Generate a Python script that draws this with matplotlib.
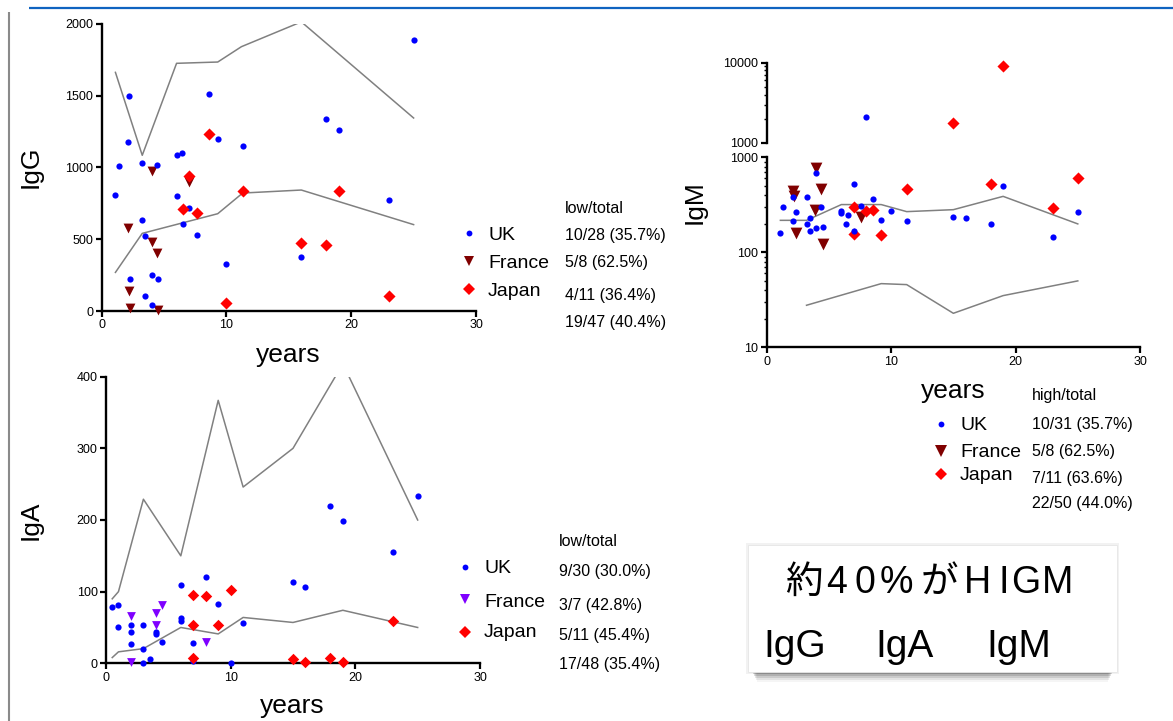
import matplotlib
matplotlib.use("Agg")
import matplotlib.pyplot as plt
from matplotlib.patches import Rectangle
import numpy as np

plt.rcParams['font.family'] = ['Liberation Sans', 'DejaVu Sans']

# ---------------- data ----------------
countries = ["UK", "France", "Japan"]

# IgG
igg_uk_x = [1.1, 1.35, 2.15, 2.1, 2.3, 3.25, 3.25, 3.5, 3.5, 4.0, 4.0, 4.4, 4.5, 6.0, 6.4, 6.0,
            6.5, 7.0, 7.6, 8.6, 9.3, 10.0, 11.3, 16.0, 18.0, 19.0, 23.0, 25.0]
igg_uk_y = [811, 1010, 1498, 1178, 221, 1029, 632, 520, 102, 251, 42, 1020, 221, 1089, 1099, 799,
            609, 720, 530, 1510, 1199, 330, 1150, 379, 1340, 1259, 776, 1889]
igg_fr_x = [2.1, 2.15, 2.3, 4.0, 4.0, 4.4, 4.5, 7.0]
igg_fr_y = [578, 139, 21, 978, 483, 404, 7, 901]
igg_jp_x = [6.5, 7.0, 7.6, 8.6, 10.0, 11.3, 16.0, 18.0, 19.0, 23.0]
igg_jp_y = [711, 943, 681, 1236, 56, 834, 476, 458, 839, 107]
igg_hi_x = [1.1, 3.25, 6.0, 9.3, 11.2, 16.0, 25.0]
igg_hi_y = [1663, 1085, 1726, 1735, 1842, 2015, 1345]
igg_lo_x = [1.1, 3.25, 9.3, 11.3, 16.0, 25.0]
igg_lo_y = [269, 541, 678, 822, 843, 602]
igg_stats = ["low/total", "10/28 (35.7%)", "5/8 (62.5%)", "4/11 (36.4%)", "19/47 (40.4%)"]

# IgA
iga_uk_x = [0.5, 1.0, 1.0, 2.0, 2.0, 2.0, 3.0, 3.0, 3.0, 3.5, 4.0, 4.0, 4.5, 6.0, 6.0, 6.0, 7.0,
            7.0, 7.0, 8.0, 9.0, 10.0, 11.0, 15.0, 16.0, 18.0, 19.0, 23.0, 25.0]
iga_uk_y = [79, 81, 50, 54, 43, 27, 53, 19.5, 0, 6, 43, 40.5, 30, 109, 63, 59.5, 29,
            6, 3.7, 121, 83, 0, 56, 113.5, 106.5, 219, 199, 156, 233]
iga_fr_x = [2.0, 2.0, 4.0, 4.0, 4.5, 8.0]
iga_fr_y = [66, 1.5, 70, 53, 82, 30]
iga_jp_x = [7.0, 7.0, 7.0, 8.0, 9.0, 10.0, 15.0, 16.0, 18.0, 19.0, 23.0]
iga_jp_y = [96, 53, 7, 94, 53, 103, 5.5, 1.5, 8, 1.5, 59.5]
iga_hi_x = [0.5, 1.0, 3.0, 6.0, 9.0, 11.0, 15.0, 19.0, 25.0]
iga_hi_y = [90, 100, 229, 150, 367, 246, 300, 418, 200]
iga_lo_x = [0.5, 1.0, 3.0, 6.0, 9.0, 11.0, 15.0, 19.0, 25.0]
iga_lo_y = [8, 16, 20.5, 50, 41, 64, 57, 74, 50]
iga_stats = ["low/total", "9/30 (30.0%)", "3/7 (42.8%)", "5/11 (45.4%)", "17/48 (35.4%)"]

# IgM
igm_uk_x = [1.1, 1.35, 2.1, 2.15, 2.35, 3.2, 3.25, 3.5, 3.5, 3.95, 3.95, 4.4, 4.5, 6.0, 6.0, 6.5,
            6.4, 7.0, 7.0, 7.55, 8.55, 9.2, 10.0, 11.25, 15.0, 16.0, 18.0, 19.0, 23.0, 25.0, 8.0]
igm_uk_y = [158, 298, 379, 214, 264, 379, 197, 230, 169, 690, 179, 298, 186, 275, 257, 249,
            197, 524, 169, 310, 364, 221, 272, 214, 237, 230, 199, 499, 146, 264, 2094]
igm_fr_x = [2.1, 2.2, 2.35, 3.95, 3.85, 4.4, 4.5, 7.55]
igm_fr_y = [446, 394, 161, 766, 279, 460, 121, 233]
igm_jp_x = [7.0, 7.0, 8.0, 8.55, 9.2, 11.25, 18.0, 23.0, 25.0, 15.0, 19.0]
igm_jp_y = [298, 155, 275, 281, 151, 468, 524, 295, 601, 1745, 8995]
igm_hi_x = [1.1, 3.2, 6.0, 9.2, 11.25, 15.0, 19.0, 25.0]
igm_hi_y = [217, 217, 318, 318, 268, 281, 388, 199]
igm_lo_x = [3.2, 9.2, 11.25, 15.0, 19.0, 25.0]
igm_lo_y = [27.7, 46.8, 45.7, 22.8, 35, 50]
igm_stats = ["high/total", "10/31 (35.7%)", "5/8 (62.5%)", "7/11 (63.6%)", "22/50 (44.0%)"]

box_line1 = "約40%がHIGM"
box_line2 = ["IgG", "IgA", "IgM"]

# ---------------- style ----------------
W, H = 1173, 721
fig = plt.figure(figsize=(W / 100, H / 100), dpi=100)
fig.patch.set_facecolor("white")

BLUE, MAROON, RED, PURPLE = "#0000FF", "#800000", "#FF0000", "#7F00FF"
GRAY = "#808080"


def px_axes(x0, x1, ytop, ybot):
    return fig.add_axes([x0 / W, 1 - ybot / H, (x1 - x0) / W, (ybot - ytop) / H])


def style(ax):
    ax.set_facecolor("none")
    for s in ("top", "right"):
        ax.spines[s].set_visible(False)
    for s in ("left", "bottom"):
        ax.spines[s].set_linewidth(1.7)
    ax.tick_params(which="major", direction="out", length=4, width=1.6, labelsize=9, pad=2)
    ax.tick_params(which="minor", direction="out", length=2.5, width=1.0)


# overlay axes in pixel coordinates for decorations
ov = fig.add_axes([0, 0, 1, 1])
ov.set_xlim(0, W)
ov.set_ylim(H, 0)
ov.axis("off")
ov.plot([29, W], [8.3, 8.3], color="#0f63c0", lw=1.6, solid_capstyle="butt")
ov.plot([8.7, 8.7], [12, H], color="#8a8a8a", lw=1.5, solid_capstyle="butt")

# ---- IgG ----
ax1 = px_axes(101.7, 476, 24, 311)
style(ax1)
ax1.plot(igg_hi_x, igg_hi_y, color=GRAY, lw=1.1)
ax1.plot(igg_lo_x, igg_lo_y, color=GRAY, lw=1.1)
ax1.scatter(igg_fr_x, igg_fr_y, marker="v", s=50, color=MAROON, lw=0, clip_on=False, zorder=3)
ax1.scatter(igg_uk_x, igg_uk_y, marker="o", s=20, color=BLUE, lw=0, clip_on=False, zorder=3)
ax1.scatter(igg_jp_x, igg_jp_y, marker="D", s=38, color=RED, lw=0, clip_on=False, zorder=4)
ax1.set_xlim(0, 30)
ax1.set_ylim(0, 2000)
ax1.set_xticks([0, 10, 20, 30])
ax1.set_yticks([0, 500, 1000, 1500, 2000])

# ---- IgA ----
ax2 = px_axes(106, 480, 376.7, 663.3)
style(ax2)
ax2.plot(iga_hi_x, iga_hi_y, color=GRAY, lw=1.1)
ax2.plot(iga_lo_x, iga_lo_y, color=GRAY, lw=1.1)
ax2.scatter(iga_uk_x, iga_uk_y, marker="o", s=20, color=BLUE, lw=0, clip_on=False, zorder=3)
ax2.scatter(iga_fr_x, iga_fr_y, marker="v", s=40, color=PURPLE, lw=0, clip_on=False, zorder=3)
ax2.scatter(iga_jp_x, iga_jp_y, marker="D", s=34, color=RED, lw=0, clip_on=False, zorder=4)
ax2.set_xlim(0, 30)
ax2.set_ylim(0, 400)
ax2.set_xticks([0, 10, 20, 30])
ax2.set_yticks([0, 100, 200, 300, 400])

# ---- IgM (broken log axis) ----
ax3 = px_axes(766.7, 1140, 157.3, 347.3)
ax3u = px_axes(766.7, 1140, 62.7, 142.7)
for a in (ax3, ax3u):
    style(a)
    a.set_yscale("log")
    a.set_xlim(0, 30)
ax3.set_ylim(10, 1000)
ax3u.set_ylim(1000, 10000)
ax3u.spines["bottom"].set_visible(False)
ax3u.tick_params(axis="x", which="both", bottom=False, labelbottom=False)
ax3.set_xticks([0, 10, 20, 30])
ax3.set_yticks([10, 100, 1000])
ax3u.set_yticks([1000, 10000])
for a in (ax3, ax3u):
    a.yaxis.set_major_formatter(matplotlib.ticker.FuncFormatter(lambda v, p: "%d" % round(v)))
    a.yaxis.set_minor_formatter(matplotlib.ticker.NullFormatter())

ax3.plot(igm_hi_x, igm_hi_y, color=GRAY, lw=1.1)
ax3.plot(igm_lo_x, igm_lo_y, color=GRAY, lw=1.1)


def split_scatter(xs, ys, **kw):
    xs = np.asarray(xs)
    ys = np.asarray(ys)
    lo = ys < 1000
    ax3.scatter(xs[lo], ys[lo], clip_on=False, lw=0, **kw)
    ax3u.scatter(xs[~lo], ys[~lo], clip_on=False, lw=0, **kw)


split_scatter(igm_fr_x, igm_fr_y, marker="v", s=72, color=MAROON, zorder=3)
split_scatter(igm_jp_x, igm_jp_y, marker="D", s=38, color=RED, zorder=3)
split_scatter(igm_uk_x, igm_uk_y, marker="o", s=20, color=BLUE, zorder=4)

# ---- axis titles ----
ov.text(31, 167, "IgG", rotation=90, ha="center", va="center", fontsize=19)
ov.text(31, 520, "IgA", rotation=90, ha="center", va="center", fontsize=19)
ov.text(695, 202, "IgM", rotation=90, ha="center", va="center", fontsize=19)
ov.text(288.5, 362, "years", ha="center", va="baseline", fontsize=19)
ov.text(292, 713, "years", ha="center", va="baseline", fontsize=19)
ov.text(953, 398, "years", ha="center", va="baseline", fontsize=19)


# ---- legends ----
def legend(mx, my_list, tx, tbase, colors, msizes, sx, sbase, stats):
    mk = ["o", "v", "D"]
    for i, name in enumerate(countries):
        ov.plot([mx], [my_list[i]], marker=mk[i], ms=msizes[i], color=colors[i], mew=0, ls="none")
        ov.text(tx, tbase[i], name, fontsize=14, va="baseline", ha="left")
    for j, s in enumerate(stats):
        ov.text(sx, sbase[j], s, fontsize=11.5, va="baseline", ha="left")


legend(469, [233, 261, 289], 488, [240, 268, 296], [BLUE, MAROON, RED], [4.2, 7, 6.5],
       565, [213, 240, 267, 300, 327], igg_stats)
legend(465, [567, 599, 632], 484, [573, 607, 637], [BLUE, PURPLE, RED], [4.2, 7, 6.3],
       559, [546, 576, 610, 640, 669], iga_stats)
legend(941, [424, 451, 474], 960, [430, 457, 480], [BLUE, MAROON, RED], [4.2, 9, 6.0],
       1032, [400, 429, 456, 483, 508], igm_stats)

# ---- text box with shadow ----
for k, a in enumerate([0.04, 0.07, 0.10, 0.13, 0.16]):
    d = 10 - 2 * k
    ov.add_patch(Rectangle((752 + (5 - k), 660), 1113 - 752 - 2 * (5 - k), 12 + d,
                           facecolor="black", alpha=a, lw=0, zorder=5))
ov.add_patch(Rectangle((746, 543), 373, 131, facecolor="#000000", alpha=0.05, lw=0, zorder=5))
ov.add_patch(Rectangle((748, 545), 369, 127, facecolor="white", edgecolor="#e6e6e6", lw=0.6, zorder=6))

# first line: characters set with wide tracking, as in the slide
char_x = [785, 826, 855, 880, 921, 964, 999, 1011, 1042]
for ch, x in zip(box_line1, char_x):
    fam = ["Noto Sans CJK JP", "DejaVu Sans"] if ord(ch) > 0x2000 else ["Liberation Sans", "DejaVu Sans"]
    ov.text(x, 593, ch, fontsize=27, va="baseline", ha="left", zorder=7, family=fam)
for t, x in zip(box_line2, [763, 875, 986]):
    ov.text(x, 657, t, fontsize=28, va="baseline", ha="left", zorder=7)

fig.savefig("out.png", dpi=100, facecolor="white")
